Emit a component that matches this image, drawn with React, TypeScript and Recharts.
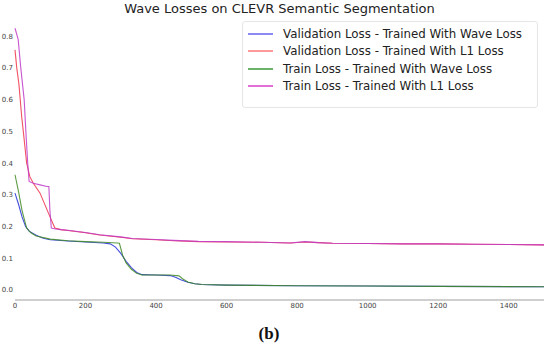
import { LineChart, Line, XAxis, YAxis, Legend } from 'recharts'

// validation loss, trained with wave loss (blue)
const valWaveSteps = [0, 10, 20, 30, 40, 60, 80, 100, 150, 200, 250, 270, 285, 300, 315, 330, 345, 360, 400, 440, 455, 470, 490, 510, 530, 600, 800, 1000, 1200, 1500]
const valWaveLoss = [0.305, 0.27, 0.23, 0.2, 0.185, 0.172, 0.163, 0.158, 0.154, 0.151, 0.148, 0.145, 0.135, 0.115, 0.09, 0.07, 0.055, 0.048, 0.047, 0.045, 0.04, 0.032, 0.024, 0.019, 0.017, 0.015, 0.013, 0.012, 0.011, 0.01]

// validation loss, trained with L1 loss (red)
const valL1Steps = [0, 5, 11, 19, 24, 33, 42, 52, 71, 99, 113, 130, 150, 200, 240, 300, 333, 400, 450, 520, 600, 700, 780, 822, 860, 900, 1000, 1100, 1200, 1300, 1400, 1500]
const valL1Loss = [0.757, 0.7, 0.65, 0.546, 0.495, 0.4, 0.357, 0.336, 0.305, 0.231, 0.195, 0.19, 0.187, 0.18, 0.173, 0.166, 0.161, 0.158, 0.155, 0.152, 0.151, 0.15, 0.148, 0.151, 0.149, 0.147, 0.146, 0.145, 0.145, 0.144, 0.143, 0.142]

// train loss, trained with wave loss (green)
const trainWaveSteps = [0, 10, 20, 33, 45, 60, 100, 150, 200, 250, 290, 296, 305, 315, 330, 345, 360, 400, 440, 465, 475, 490, 510, 530, 600, 800, 1000, 1200, 1500]
const trainWaveLoss = [0.363, 0.31, 0.25, 0.195, 0.18, 0.17, 0.16, 0.155, 0.152, 0.15, 0.148, 0.147, 0.11, 0.085, 0.065, 0.052, 0.047, 0.047, 0.047, 0.044, 0.035, 0.025, 0.019, 0.017, 0.015, 0.013, 0.012, 0.011, 0.01]

// train loss, trained with L1 loss (magenta)
const trainL1Steps = [0, 9, 16, 26, 31, 36, 40, 52, 71, 90, 96, 99, 103, 115, 130, 150, 200, 240, 300, 333, 400, 450, 520, 600, 700, 780, 822, 860, 900, 1000, 1100, 1200, 1300, 1400, 1500]
const trainL1Loss = [0.825, 0.79, 0.704, 0.6, 0.495, 0.4, 0.342, 0.336, 0.331, 0.326, 0.326, 0.25, 0.195, 0.192, 0.19, 0.188, 0.181, 0.174, 0.167, 0.162, 0.159, 0.156, 0.153, 0.152, 0.15, 0.148, 0.152, 0.149, 0.147, 0.146, 0.145, 0.145, 0.144, 0.143, 0.142]

const xTicks = [0, 200, 400, 600, 800, 1000, 1200, 1400]
const yTicks = [0, 0.1, 0.2, 0.3, 0.4, 0.5, 0.6, 0.7, 0.8]

const seriesNames = [
    'Validation Loss - Trained With Wave Loss',
    'Validation Loss - Trained With L1 Loss',
    'Train Loss - Trained With Wave Loss',
    'Train Loss - Trained With L1 Loss',
]
const lineColors = ['#2430d8', '#ee3348', '#3f8a22', '#c038c8']
const legendColors = ['#8a8af2', '#ff9a9a', '#6ab46a', '#e070d8']

const toRows = (steps: number[], loss: number[]) => steps.map((step, i) => ({ step, loss: loss[i] }))

const series = [
    toRows(valWaveSteps, valWaveLoss),
    toRows(valL1Steps, valL1Loss),
    toRows(trainWaveSteps, trainWaveLoss),
    toRows(trainL1Steps, trainL1Loss),
]

const font = '"DejaVu Sans", sans-serif'

function LegendBox() {
    return (
        <div style={{
            background: '#fff', border: '1px solid #e6e6e6', borderRadius: 3, boxSizing: 'border-box', width: 296,
            padding: '3px 4px 12px 5px', fontFamily: font, fontSize: 11.8, color: '#222', whiteSpace: 'nowrap',
        }}>
            {seriesNames.map((name, i) => (
                <div key={name} style={{ display: 'flex', alignItems: 'center', height: 17.5 }}>
                    <span style={{ width: 25, height: 0, borderTop: `2px solid ${legendColors[i]}`, marginRight: 10, flex: 'none' }} />
                    <span>{name}</span>
                </div>
            ))}
        </div>
    )
}

export default function App() {
    return (
        <div style={{ position: 'absolute', left: 0, top: 0, width: 550, height: 349, background: '#fff' }}>
            <div style={{
                position: 'absolute', left: 15, width: 529, top: 0, textAlign: 'center',
                fontFamily: font, fontSize: 13, color: '#222', lineHeight: '18px',
            }}>
                Wave Losses on CLEVR Semantic Segmentation
            </div>
            <LineChart width={550} height={349} margin={{ top: 14, right: 6, bottom: 37, left: 0 }}>
                <XAxis
                    type="number"
                    dataKey="step"
                    domain={[0, 1500]}
                    ticks={xTicks}
                    height={12}
                    tickLine={false}
                    tickSize={1}
                    axisLine={{ stroke: '#cfcfcf', strokeWidth: 2 }}
                    tick={{ fontSize: 7, fill: '#444', fontFamily: font }}
                    allowDuplicatedCategory={false}
                />
                <YAxis
                    type="number"
                    domain={[-0.032, 0.87]}
                    ticks={yTicks}
                    width={15}
                    tickLine={false}
                    tickSize={0}
                    axisLine={false}
                    tickFormatter={(v: number) => v.toFixed(1)}
                    tick={{ fontSize: 7, fill: '#444', fontFamily: font }}
                />
                <Legend
                    layout="horizontal"
                    verticalAlign="middle"
                    align="center"
                    wrapperStyle={{ top: 21, left: 242, width: 296 }}
                    content={() => <LegendBox />}
                />
                {series.map((rows, i) => (
                    <Line
                        key={seriesNames[i]}
                        data={rows}
                        dataKey="loss"
                        name={seriesNames[i]}
                        type="linear"
                        stroke={lineColors[i]}
                        strokeWidth={1.1}
                        strokeOpacity={0.85}
                        dot={false}
                        activeDot={false}
                        isAnimationActive={false}
                    />
                ))}
            </LineChart>
            <div style={{
                position: 'absolute', left: 0, width: 550, top: 324, textAlign: 'center',
                fontFamily: '"Liberation Serif", serif', fontWeight: 'bold', fontSize: 17, color: '#111',
                transform: 'translateX(-6px)',
            }}>
                (b)
            </div>
        </div>
    )
}
